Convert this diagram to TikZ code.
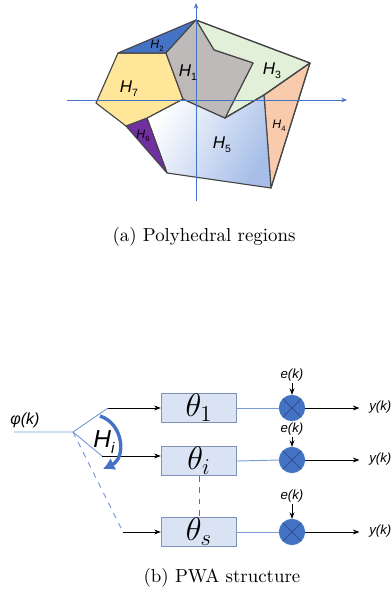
\documentclass[tikz,border=0pt]{standalone}
\usepackage{fontspec}
\usetikzlibrary{arrows.meta}
\newfontfamily\lblfont{Liberation Sans}
\definecolor{axisblue}{RGB}{68,114,196}
\definecolor{wireblue}{RGB}{120,155,215}
\definecolor{edgegray}{RGB}{70,70,70}
\definecolor{regiongray}{RGB}{190,186,186}
\definecolor{regionblue}{RGB}{68,114,196}
\definecolor{regiongreen}{RGB}{226,240,217}
\definecolor{regionpeach}{RGB}{248,203,173}
\definecolor{regionsky}{RGB}{166,190,232}
\definecolor{regionpurple}{RGB}{112,48,160}
\definecolor{regionyellow}{RGB}{255,230,153}
\definecolor{boxfill}{RGB}{218,227,243}
\definecolor{boxedge}{RGB}{125,145,185}
\definecolor{multedge}{RGB}{47,82,143}

% label H with a small index
\newcommand{\hreg}[1]{\lblfont\textit{H}\raisebox{-0.45ex}{\scalebox{0.62}{#1}}}

\tikzset{
  region/.style={draw=edgegray, line width=0.6pt, line join=round},
  axis/.style={axisblue, line width=0.4pt, -{Stealth[length=3pt,width=2.4pt]}},
  biglabel/.style={font=\fontsize{9}{9}\selectfont},
  smalllabel/.style={font=\fontsize{6.5}{6.5}\selectfont},
  thetabox/.style={draw=boxedge, fill=boxfill, line width=0.5pt,
    minimum width=40pt, minimum height=15.5pt, inner sep=0pt, font=\LARGE},
  mult/.style={circle, fill=axisblue, draw=axisblue, minimum size=13.5pt, inner sep=0pt,
    path picture={\draw[multedge, line width=0.5pt]
      (path picture bounding box.north west) -- (path picture bounding box.south east)
      (path picture bounding box.north east) -- (path picture bounding box.south west);}},
  wire/.style={wireblue, line width=0.5pt},
  sig/.style={black, line width=0.4pt, -{Stealth[length=3.5pt,width=2.6pt]}},
  siglabel/.style={font=\lblfont\itshape\fontsize{7}{7}\selectfont, inner sep=1pt},
  caption/.style={font=\normalsize}
}

\begin{document}
\begin{tikzpicture}[x=0.53pt, y=-0.53pt]
\useasboundingbox (0,0) rectangle (390,597);

% (a) regions
\fill[region, fill=regiongreen] (196,20) -- (310,63) -- (264,95) -- (225,118) -- (253,63) -- (214,50) -- cycle;
\fill[region, fill=regionpeach] (310,63) -- (264,95) -- (271,188) -- cycle;
\shade[left color=white, right color=regionsky, shading angle=60]
  (147,118) -- (183,99) -- (225,118) -- (264,95) -- (271,188) -- (167,173) -- cycle;
\draw[region] (147,118) -- (183,99) -- (225,118) -- (264,95) -- (271,188) -- (167,173) -- cycle;
\filldraw[region, fill=regionpurple] (126,126) -- (147,118) -- (167,173) -- cycle;
\filldraw[region, fill=regionyellow] (118,53) -- (166,53) -- (183,99) -- (147,118) -- (126,126) -- (96,103) -- cycle;
\filldraw[region, fill=regionblue] (118,53) -- (196,20) -- (166,53) -- cycle;
\filldraw[region, fill=regiongray] (196,20) -- (214,50) -- (253,63) -- (225,118) -- (183,99) -- (166,53) -- cycle;
\draw[region] (196,20) -- (310,63) -- (264,95) -- (225,118);
\draw[region] (310,63) -- (271,188);

% axes
\draw[axis] (67,100) -- (347,100);
\draw[axis] (196,201) -- (196,3);

% region labels
\node[biglabel] (h1) at (188,73) {\hreg{1}};
\node[smalllabel] (h2) at (157,46) {\hreg{2}};
\node[biglabel] (h3) at (272,71) {\hreg{3}};
\node[smalllabel] (h4) at (279,126) {\hreg{4}};
\node[biglabel] (h5) at (222,145) {\hreg{5}};
\node[smalllabel] (h6) at (143,136) {\hreg{6}};
\node[biglabel] (h7) at (129,89) {\hreg{7}};

\node[caption] (capa) at (204,237) {(a) Polyhedral regions};

% (b) PWA structure
\coordinate (in) at (14,432);
\coordinate (fork) at (73,432);
\coordinate (br1) at (108,408);
\coordinate (bri) at (102,456);
\coordinate (brs) at (123,532);

\node[anchor=south, inner sep=1pt, font=\lblfont\itshape\fontsize{8.5}{8.5}\selectfont] (phi) at (25,430) {φ(k)};

\node[thetabox] (box1) at (199,408) {$\theta_1$};
\node[thetabox] (boxi) at (199,461) {$\theta_i$};
\node[thetabox] (boxs) at (199,532) {$\theta_s$};

\node[mult] (m1) at (292,408) {};
\node[mult] (mi) at (292,460) {};
\node[mult] (ms) at (292,532) {};

\node[siglabel, anchor=south] (e1) at (292,383) {e(k)};
\node[siglabel, anchor=south] (ei) at (292,437) {e(k)};
\node[siglabel, anchor=south] (es) at (292,504) {e(k)};

\node[siglabel, anchor=west] (y1) at (367,407) {y(k)};
\node[siglabel, anchor=west] (yi) at (367,459) {y(k)};
\node[siglabel, anchor=west] (ys) at (367,531) {y(k)};

% switch
\draw[wire] (in) -- (fork) -- (br1);
\draw[wire] (fork) -- (bri);
\draw[wire, dashed] (fork) -- (brs);
\draw[sig] (br1) -- (box1.west);
\draw[sig] (bri) -- (bri -| boxi.west);
\draw[sig] (brs) -- (boxs.west);
\draw[axisblue, line width=0.5pt, dashed] (boxi.south) -- (boxs.north);

\coordinate (arcs) at (100,416);
\coordinate (arce) at (103,469);
\draw[axisblue, line width=1.8pt, -{Latex[length=6pt,width=7pt]}]
  (arcs) .. controls (124,424) and (126,458) .. (arce);
\node[font=\lblfont\fontsize{13}{13}\selectfont] (hi) at (104,442) {\hreg{\textit{i}}};

% to outputs
\foreach \b/\m/\e/\y in {box1/m1/e1/y1, boxi/mi/ei/yi, boxs/ms/es/ys} {
  \draw[wire] (\b.east) -- (\m.west);
  \draw[sig] (\e.south) -- (\m.north);
  \draw[sig] (\m.east) -- ([xshift=-4pt]\m.east -| \y.west);
}

\node[caption] (capb) at (222,578) {(b) PWA structure};
\end{tikzpicture}
\end{document}
